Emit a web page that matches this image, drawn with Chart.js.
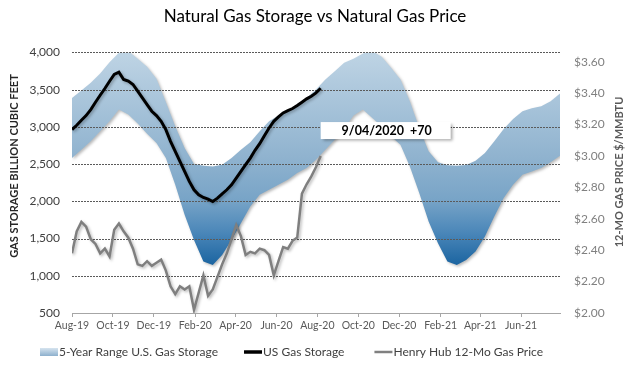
<!DOCTYPE html>
<html>
<head>
<meta charset="utf-8">
<script src="https://cdn.jsdelivr.net/npm/chart.js@4.4.1/dist/chart.umd.min.js"></script>
<style>
html, body { margin: 0; padding: 0; background: #fff; }
</style>
</head>
<body>
<canvas id="gaschart" width="630" height="368"></canvas>
<script>
// tick labels on the date axis (every 2 months)
var tickLabels = ["Aug-19", "Oct-19", "Dec-19", "Feb-20", "Apr-20", "Jun-20", "Aug-20", "Oct-20", "Dec-20", "Feb-21", "Apr-21", "Jun-21"];
var monthNames = ["Jan", "Feb", "Mar", "Apr", "May", "Jun", "Jul", "Aug", "Sep", "Oct", "Nov", "Dec"];
var gridValues = [1000, 1500, 2000, 2500, 3000, 3500, 4000];

// weekly US gas storage, Bcf
var storage = [2963, 3021, 3089, 3151, 3232, 3331, 3425, 3515, 3613, 3703, 3735, 3636, 3614, 3569, 3479, 3389, 3299, 3210, 3151, 3075,
  2963, 2806, 2671, 2537, 2402, 2267, 2155, 2088, 2052, 2030, 1998, 2043, 2101, 2155, 2222, 2312, 2402, 2492, 2581, 2685,
  2774, 2882, 2985, 3075, 3133, 3187, 3219, 3246, 3286, 3331, 3376, 3412, 3456, 3519];

// weekly Henry Hub 12-month strip, $/MMBtu
var price = [2.38, 2.52, 2.58, 2.55, 2.47, 2.44, 2.38, 2.41, 2.36, 2.53, 2.57, 2.52, 2.48, 2.41, 2.31, 2.30, 2.33, 2.30, 2.32, 2.34,
  2.27, 2.17, 2.12, 2.17, 2.15, 2.17, 2.02, 2.13, 2.24, 2.11, 2.15, 2.23, 2.31, 2.38, 2.47, 2.56, 2.49, 2.37, 2.39, 2.38,
  2.41, 2.40, 2.37, 2.24, 2.33, 2.42, 2.41, 2.46, 2.48, 2.76, 2.82, 2.87, 2.93, 3.00];

// 5-year range, every two weeks
var bandHigh = [3389, 3488, 3591, 3717, 3869, 3995, 4017, 3914, 3806, 3645, 3335, 3008, 2716, 2501, 2478, 2469, 2492, 2581, 2694, 2792,
  2940, 3075, 3151, 3210, 3299, 3389, 3501, 3636, 3748, 3860, 3914, 3986, 4017, 3941, 3793, 3636, 3344, 2985, 2671, 2523,
  2483, 2478, 2487, 2546, 2649, 2806, 2972, 3106, 3210, 3250, 3277, 3344, 3447];
var bandLow = [2582, 2694, 2806, 2940, 3075, 3232, 3165, 3044, 2909, 2783, 2582, 2222, 1819, 1482, 1190, 1146, 1280, 1482, 1707, 1931,
  2088, 2155, 2222, 2290, 2380, 2447, 2559, 2694, 2828, 2972, 3151, 3232, 3120, 3008, 2873, 2761, 2469, 2110, 1729, 1437,
  1190, 1146, 1213, 1325, 1527, 1796, 2043, 2222, 2357, 2402, 2447, 2523, 2613];

var noteText = "9/04/2020  +70";

// day offsets from the first axis date
var origin = Date.UTC(2019, 7, 1);
function dayOf(label) {
  var m = monthNames.indexOf(label.slice(0, 3));
  var y = 2000 + parseInt(label.slice(4), 10);
  return Math.round((Date.UTC(y, m, 1) - origin) / 86400000);
}
var tickDays = tickLabels.map(dayOf);

function pts(arr, step) {
  return arr.map(function (v, i) { return { x: i * step, y: v }; });
}

function bandGradient(context) {
  var chart = context.chart;
  if (!chart.chartArea) return '#9dbdd6';
  var ys = chart.scales.y;
  var g = chart.ctx.createLinearGradient(0, ys.getPixelForValue(4050), 0, ys.getPixelForValue(1150));
  g.addColorStop(0, '#c0d5e5');
  g.addColorStop(0.5, '#90b3cf');
  g.addColorStop(0.7, '#78a4c7');
  g.addColorStop(0.85, '#4b87b9');
  g.addColorStop(1, '#1c65a1');
  return g;
}

var gridDone = false;
function drawGrid(chart) {
  var ctx = chart.ctx;
  var area = chart.chartArea;
  var ys = chart.scales.y;
  ctx.save();
  ctx.shadowColor = 'rgba(0,0,0,0)';
  ctx.shadowBlur = 0;
  ctx.shadowOffsetX = 0;
  ctx.shadowOffsetY = 0;
  ctx.strokeStyle = '#5a5a5a';
  ctx.lineWidth = 1;
  ctx.setLineDash([2, 1]);
  gridValues.forEach(function (v) {
    var py = Math.round(ys.getPixelForValue(v)) + 0.5;
    ctx.beginPath();
    ctx.moveTo(area.left, py);
    ctx.lineTo(area.right, py);
    ctx.stroke();
  });
  ctx.restore();
  gridDone = true;
}

// soft shadow under the series, like the original
var shadowPlugin = {
  id: 'shadow',
  beforeDatasetsDraw: function (chart) {
    var ctx = chart.ctx;
    gridDone = false;
    ctx.save();
    ctx.shadowColor = 'rgba(0,0,0,0.28)';
    ctx.shadowBlur = 3;
    ctx.shadowOffsetX = 1.5;
    ctx.shadowOffsetY = 1.5;
  },
  beforeDatasetDraw: function (chart, args) {
    // gridlines go over the band, under the two lines
    if (args.index === 1 && !gridDone) drawGrid(chart);
  },
  afterDatasetsDraw: function (chart) {
    chart.ctx.restore();
    if (!gridDone) drawGrid(chart);
  }
};

// axis titles, note box and legend
var extrasPlugin = {
  id: 'extras',
  afterDraw: function (chart) {
    var ctx = chart.ctx;
    var xs = chart.scales.x, ys = chart.scales.y;

    ctx.save();
    ctx.font = 'bold 11px Lato';
    ctx.textAlign = 'center';
    ctx.textBaseline = 'middle';
    ctx.fillStyle = '#262626';
    ctx.translate(14, 166);
    ctx.rotate(-Math.PI / 2);
    ctx.fillText('GAS STORAGE BILLION CUBIC FEET', 0, 0);
    ctx.restore();

    ctx.save();
    ctx.font = 'bold 11px Lato';
    ctx.textAlign = 'center';
    ctx.textBaseline = 'middle';
    ctx.fillStyle = '#595959';
    ctx.translate(619, 172);
    ctx.rotate(-Math.PI / 2);
    ctx.fillText('12-MO GAS PRICE $/MMBTU', 0, 0);
    ctx.restore();

    // note box next to the last storage point
    var bx = xs.getPixelForValue((storage.length - 1) * 7);
    var by = ys.getPixelForValue(2950);
    ctx.save();
    ctx.shadowColor = 'rgba(0,0,0,0.35)';
    ctx.shadowBlur = 3;
    ctx.shadowOffsetX = 2;
    ctx.shadowOffsetY = 2;
    ctx.fillStyle = '#fff';
    ctx.fillRect(bx, by - 8.5, 130, 17);
    ctx.restore();
    ctx.save();
    ctx.font = 'bold 12.5px Lato';
    ctx.fillStyle = '#000';
    ctx.textAlign = 'center';
    ctx.textBaseline = 'middle';
    ctx.fillText(noteText, bx + 66, by + 0.5);
    ctx.restore();

    // legend
    var ly = 352;
    var ds = chart.data.datasets;
    ctx.save();
    ctx.font = '12px Lato';
    ctx.textBaseline = 'middle';
    ctx.textAlign = 'left';
    var x = 40;
    var g = ctx.createLinearGradient(0, ly - 4, 0, ly + 4);
    g.addColorStop(0, '#d6e4ef');
    g.addColorStop(1, '#8db0cd');
    ctx.fillStyle = g;
    ctx.fillRect(x, ly - 4, 18, 8);
    x += 19;
    ctx.fillStyle = '#404040';
    ctx.fillText(ds[2].label, x, ly);
    x += ctx.measureText(ds[2].label).width + 26;

    ctx.strokeStyle = '#000';
    ctx.lineWidth = 3.5;
    ctx.beginPath(); ctx.moveTo(x, ly); ctx.lineTo(x + 18, ly); ctx.stroke();
    x += 19;
    ctx.fillText(ds[0].label, x, ly);
    x += ctx.measureText(ds[0].label).width + 30;

    ctx.strokeStyle = '#808080';
    ctx.lineWidth = 2.5;
    ctx.beginPath(); ctx.moveTo(x, ly); ctx.lineTo(x + 18, ly); ctx.stroke();
    x += 19;
    ctx.fillText(ds[1].label, x, ly);
    ctx.restore();
  }
};

function gaschart() {
    var ctx = document.getElementById('gaschart').getContext('2d');
    var chart = new Chart(ctx, {
        type: 'line',
        data: {
            datasets: [{
                label: 'US Gas Storage',
                data: pts(storage, 7),
                borderColor: '#000',
                borderWidth: 3,
                pointRadius: 0,
                fill: false,
                yAxisID: 'y'
            }, {
                label: 'Henry Hub 12-Mo Gas Price',
                data: pts(price, 7),
                borderColor: '#7f7f7f',
                borderWidth: 2.5,
                pointRadius: 0,
                fill: false,
                yAxisID: 'y1'
            }, {
                label: '5-Year Range U.S. Gas Storage',
                data: pts(bandHigh, 14),
                borderColor: 'rgba(0,0,0,0)',
                borderWidth: 0,
                backgroundColor: bandGradient,
                pointRadius: 0,
                fill: '+1',
                yAxisID: 'y'
            }, {
                label: 'band low',
                data: pts(bandLow, 14),
                borderColor: 'rgba(0,0,0,0)',
                borderWidth: 0,
                pointRadius: 0,
                fill: false,
                yAxisID: 'y'
            }]
        },
        options: {
            responsive: false,
            animation: false,
            events: [],
            layout: { padding: { left: 0, right: 0, top: 0, bottom: 33 } },
            plugins: {
                legend: { display: false },
                tooltip: { enabled: false },
                title: {
                    display: true,
                    text: 'Natural Gas Storage vs Natural Gas Price',
                    color: '#000',
                    font: { family: 'Lato', size: 17, weight: 'normal' },
                    padding: { top: 6, bottom: 26 }
                }
            },
            scales: {
                x: {
                    type: 'linear',
                    min: 0,
                    max: 728,
                    afterFit: function (s) { s.height = 22; },
                    afterBuildTicks: function (s) {
                        s.ticks = tickDays.map(function (d) { return { value: d }; });
                    },
                    ticks: {
                        autoSkip: false,
                        maxRotation: 0,
                        padding: 2,
                        color: '#595959',
                        font: { family: 'Lato', size: 10.5 },
                        callback: function (v, i) { return tickLabels[i]; }
                    },
                    grid: { drawOnChartArea: false, drawTicks: true, tickLength: 4, color: '#a6a6a6' },
                    border: { display: true, color: '#a6a6a6', width: 1 }
                },
                y: {
                    position: 'left',
                    min: 500,
                    max: 4000,
                    afterFit: function (s) { s.width = 72; },
                    ticks: {
                        stepSize: 500,
                        padding: 12,
                        color: '#404040',
                        font: { family: 'Lato', size: 12 },
                        callback: function (v) { return v.toLocaleString('en-US'); }
                    },
                    grid: { display: false, drawTicks: false },
                    border: { display: false }
                },
                y1: {
                    position: 'right',
                    min: 2,
                    max: 3.66,
                    afterFit: function (s) { s.width = 70; },
                    ticks: {
                        stepSize: 0.2,
                        includeBounds: false,
                        padding: 14,
                        color: '#808080',
                        font: { family: 'Lato', size: 12 },
                        callback: function (v) { return '$' + v.toFixed(2); }
                    },
                    grid: { display: false, drawTicks: false },
                    border: { display: false }
                }
            }
        },
        plugins: [shadowPlugin, extrasPlugin]
    });
}

gaschart();
</script>
</body>
</html>
